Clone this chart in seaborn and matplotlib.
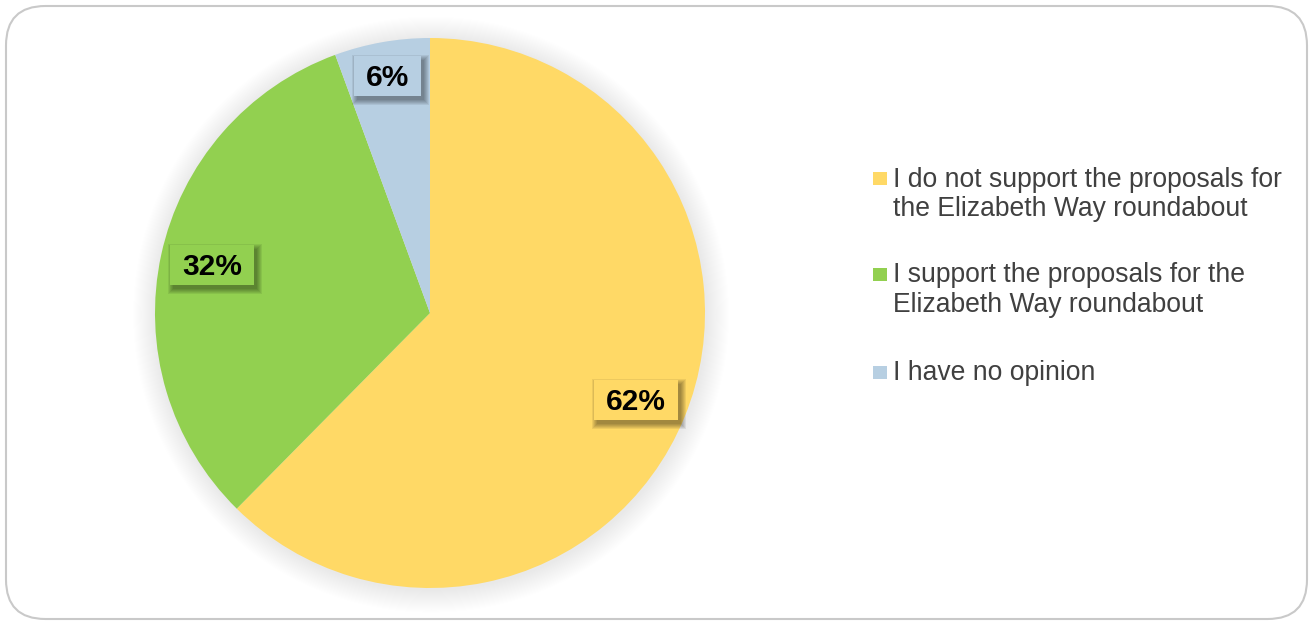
import matplotlib
matplotlib.use("Agg")
import matplotlib.pyplot as plt
from matplotlib.patches import FancyBboxPatch, Rectangle, Circle
from matplotlib.transforms import IdentityTransform, offset_copy
import seaborn as sns

categories = [
    "I do not support the proposals for the Elizabeth Way roundabout",
    "I support the proposals for the Elizabeth Way roundabout",
    "I have no opinion",
]
legend_lines = [
    ["I do not support the proposals for", "the Elizabeth Way roundabout"],
    ["I support the proposals for the", "Elizabeth Way roundabout"],
    ["I have no opinion"],
]
values = [62.4, 32.0, 5.6]
labels = ["62%", "32%", "6%"]
colors = ["#FFD966", "#92D050", "#B7CFE2"]

sns.set_theme(style="white")
plt.rcParams["font.family"] = ["Liberation Sans", "DejaVu Sans"]

W, H = 1314, 622
fig = plt.figure(figsize=(W / 100, H / 100), dpi=100)
fig.patch.set_facecolor("white")

def fx(px):
    return px / W

def fy(py):
    return 1 - py / H

# rounded border
border = FancyBboxPatch((fx(6), fy(619)), fx(1307) - fx(6), fy(6) - fy(619),
                        boxstyle="round,pad=0,rounding_size=0.03",
                        transform=fig.transFigure, facecolor="none",
                        edgecolor="#C9C9C9", linewidth=1.5,
                        mutation_aspect=W / H)
fig.add_artist(border)

# pie axes: center (430,313), radius 275
cx, cy, r = 430, 313, 275
ax = fig.add_axes([fx(cx - r), fy(cy + r), 2 * r / W, 2 * r / H])

# soft glow shadow around the pie
n = 22
for i in range(n):
    ax.add_patch(Circle((0.004, -0.006), 1.0 + 0.0038 * (n - i), color="#000000",
                        alpha=0.0055, lw=0, clip_on=False, zorder=0))

wedges, _ = ax.pie(values, colors=colors, startangle=90, counterclock=False,
                   radius=1.0, wedgeprops=dict(linewidth=0))
for w in wedges:
    w.set_zorder(2)
ax.set_xlim(-1, 1)
ax.set_ylim(-1, 1)
ax.set_aspect("equal")
ax.axis("off")

label_pos = [(0.749, -0.316), (-0.793, 0.175), (-0.155, 0.862)]
texts = []
for (x, y), lab in zip(label_pos, labels):
    tr = offset_copy(ax.transData, fig=fig, x=0, y=-10.5, units="dots")
    t = ax.text(x, y, lab, ha="center", va="baseline", fontsize=21.5,
                fontweight="bold", color="black", zorder=10, transform=tr)
    texts.append(t)

fig.canvas.draw()
renderer = fig.canvas.get_renderer()
for (x, y), t, col in zip(label_pos, texts, colors):
    bb = t.get_window_extent(renderer)
    bw = bb.width + 24
    bh = 40
    px, py = ax.transData.transform((x, y))
    # blurred shadow
    for k in range(6):
        grow = 5 - k
        ax.add_patch(Rectangle((px - bw / 2 + 3 - grow, py - bh / 2 - 4 - grow),
                               bw + 2 * grow, bh + 2 * grow,
                               transform=IdentityTransform(), facecolor="#000000",
                               alpha=0.07, edgecolor="none", zorder=6, clip_on=False))
    ax.add_patch(Rectangle((px - bw / 2, py - bh / 2), bw, bh,
                           transform=IdentityTransform(), facecolor=col,
                           edgecolor="none", zorder=8, clip_on=False))

# legend
baselines = [[186.5, 216], [282, 312.5], [380]]
for lines, bls, col in zip(legend_lines, baselines, colors):
    sq = Rectangle((fx(873), fy(bls[0] - 1.5)), 13.5 / W, 13 / H,
                   transform=fig.transFigure, facecolor=col, edgecolor="none")
    fig.add_artist(sq)
    for line, b in zip(lines, bls):
        fig.text(fx(893), fy(b), line, ha="left", va="baseline",
                 fontsize=19.1, color="#404040")

fig.savefig("out.png", dpi=100, facecolor="white")
